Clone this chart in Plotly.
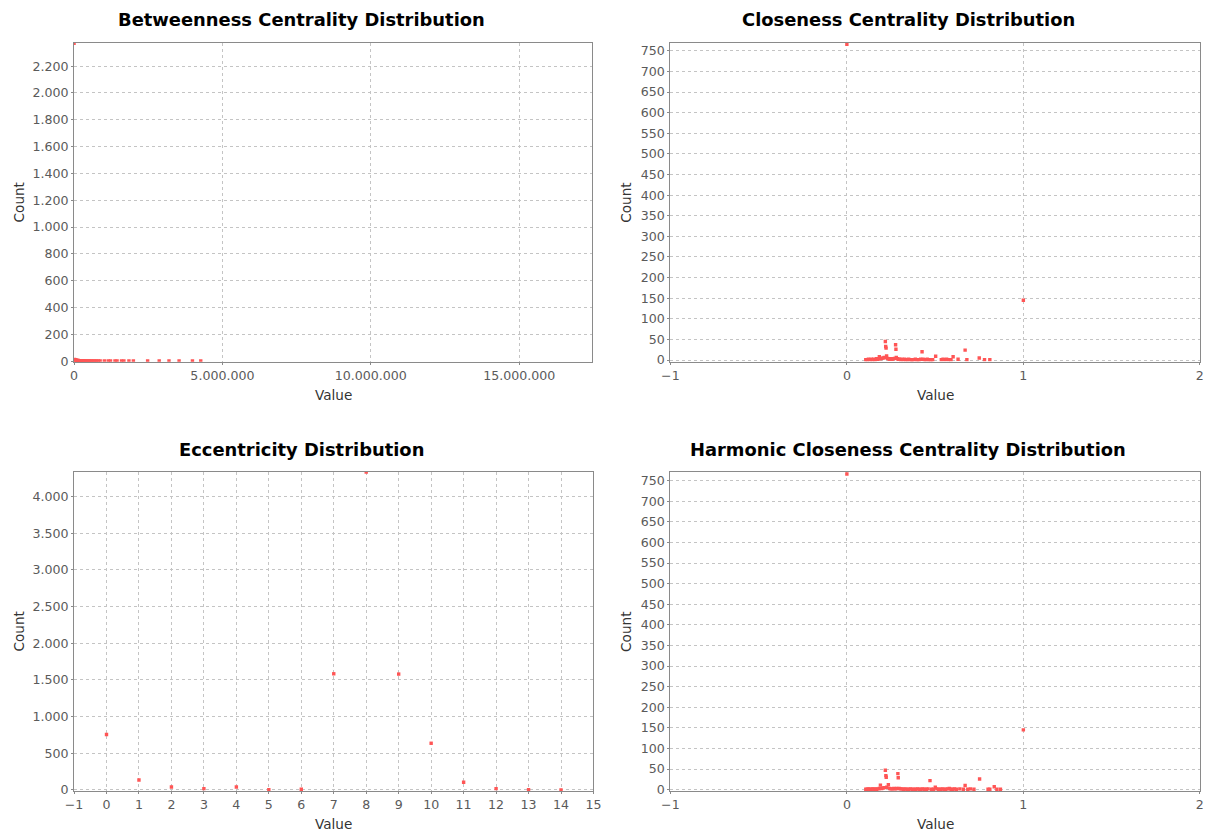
import plotly.graph_objects as go

# ---------------- data ----------------
bet_values = [0, 15000, 32000, 48000, 65000, 80000, 98000, 120000, 140000, 165000,
              190000, 215000, 240000, 270000, 300000, 330000, 365000, 400000, 440000,
              480000, 520000, 565000, 610000, 660000, 710000, 760000, 820000, 880000,
              1020000, 1150000, 1230000, 1380000, 1450000, 1600000, 1680000,
              1850000, 2000000, 2480000, 2870000, 3200000, 3540000,
              3990000, 4270000]
bet_counts = [2370, 12, 9, 8, 7, 6, 6, 5, 5, 4,
              4, 4, 3, 3, 3, 3, 2, 2, 2,
              2, 2, 2, 1, 1, 1, 1, 1, 1,
              1, 1, 1, 1, 1, 1, 1,
              1, 1, 1, 1, 1, 1,
              1, 1]

clo_values = [0, 0.107, 0.115, 0.122, 0.13, 0.138, 0.145, 0.152, 0.16, 0.168, 0.176,
              0.184, 0.19, 0.197, 0.205, 0.212, 0.218, 0.22, 0.222, 0.225, 0.23,
              0.236, 0.242, 0.25, 0.256, 0.262, 0.27, 0.276, 0.278, 0.28, 0.286,
              0.292, 0.298, 0.305, 0.312, 0.32, 0.328, 0.335, 0.342, 0.35, 0.358,
              0.365, 0.372, 0.38, 0.388, 0.395, 0.402, 0.41, 0.418, 0.426, 0.432,
              0.44, 0.448, 0.455, 0.462, 0.47, 0.478, 0.486, 0.503, 0.535, 0.545,
              0.555, 0.565, 0.575, 0.59, 0.602, 0.63, 0.67, 0.68, 0.75, 0.78, 0.81, 1]
clo_counts = [766, 1, 1, 2, 1, 2, 1, 2, 1, 3, 2,
              8, 3, 4, 5, 6, 45, 33, 29, 10, 4,
              3, 2, 3, 2, 3, 4, 37, 26, 6, 3,
              2, 2, 1, 2, 1, 2, 1, 1, 2, 1,
              1, 1, 1, 2, 1, 1, 1, 2, 20, 2,
              1, 1, 2, 1, 1, 1, 1, 9, 1, 2,
              1, 2, 1, 1, 8, 2, 24, 1, 5, 1, 1, 145]

ecc_values = [0, 1, 2, 3, 4, 5, 6, 7, 8, 9, 10, 11, 12, 13, 14]
ecc_counts = [756, 137, 41, 19, 41, 5, 10, 1584, 4333, 1580, 637, 105, 19, 3, 2]

har_values = [0, 0.107, 0.115, 0.122, 0.13, 0.138, 0.145, 0.152, 0.16, 0.168, 0.176,
              0.184, 0.19, 0.197, 0.205, 0.212, 0.218, 0.221, 0.223, 0.226, 0.235,
              0.242, 0.25, 0.258, 0.266, 0.274, 0.282, 0.289, 0.291, 0.296, 0.304,
              0.312, 0.32, 0.33, 0.34, 0.35, 0.36, 0.37, 0.38, 0.39, 0.4, 0.41,
              0.42, 0.43, 0.44, 0.45, 0.46, 0.471, 0.48, 0.49, 0.501, 0.51, 0.52,
              0.53, 0.54, 0.55, 0.56, 0.57, 0.58, 0.59, 0.6, 0.61, 0.62, 0.64,
              0.66, 0.67, 0.685, 0.70, 0.72, 0.752, 0.8, 0.81, 0.835, 0.85, 0.87, 1]
har_counts = [766, 1, 1, 2, 1, 1, 2, 1, 2, 1, 2,
              3, 11, 3, 4, 5, 47, 34, 30, 6, 12,
              3, 2, 2, 3, 2, 3, 39, 29, 3, 2,
              2, 1, 2, 1, 1, 2, 1, 1, 1, 2, 1,
              1, 2, 1, 1, 2, 22, 1, 1, 6, 2, 1,
              1, 2, 1, 1, 2, 3, 1, 1, 2, 1, 2,
              1, 10, 1, 2, 1, 26, 1, 1, 7, 1, 1, 145]

titles = ["Betweenness Centrality Distribution", "Closeness Centrality Distribution",
          "Eccentricity Distribution", "Harmonic Closeness Centrality Distribution"]

# ---------------- layout geometry ----------------
W, H = 1210, 837
SX, OX, SY = 0.987, 8.0, 0.9925   # observed page-to-picture mapping, compensated here
def px_x(v):
    return (v / SX - OX) / W
def px_y(v):
    return 1 - (v / SY) / H

panels = [
    # (x0, x1, ytop, ybottom) target pixels in the picture
    (73, 592, 43, 362),
    (670, 1200, 43, 362),
    (73, 593, 472, 792),
    (670, 1200, 472, 792),
]

RED = "#FF5555"
GRID = "#c4c4c4"
TICKFONT = dict(family="DejaVu Sans", size=12.6, color="#5a5a5a")

fig = go.Figure()
series = [(bet_values, bet_counts), (clo_values, clo_counts),
          (ecc_values, ecc_counts), (har_values, har_counts)]
for i, (xs, ys) in enumerate(series):
    sfx = "" if i == 0 else str(i + 1)
    fig.add_trace(go.Scatter(
        x=xs, y=ys, mode="markers", xaxis="x" + sfx, yaxis="y" + sfx,
        marker=dict(symbol="square", size=3.4, color=RED, line=dict(width=0)),
        showlegend=False, cliponaxis=True))

axis_common = dict(
    showgrid=True, gridcolor=GRID, griddash="dot", gridwidth=1,
    zeroline=False, showline=True, linecolor="#8a8a8a", linewidth=1, mirror=True,
    ticks="outside", ticklen=2, tickcolor="#8a8a8a", tickfont=TICKFONT,
)

xcfg = [
    dict(range=[0, 17470000], tickvals=[0, 5000000, 10000000, 15000000], tickformat=",d"),
    dict(range=[-1, 2], tick0=-1, dtick=1),
    dict(range=[-1, 15], tick0=-1, dtick=1),
    dict(range=[-1, 2], tick0=-1, dtick=1),
]
ycfg = [
    dict(range=[-4, 2373], tick0=0, dtick=200, tickformat=",d"),
    dict(range=[-4, 769], tick0=0, dtick=50),
    dict(range=[-18, 4340], tick0=0, dtick=500, tickformat=",d"),
    dict(range=[-4, 772], tick0=0, dtick=50),
]

layout = dict(
    width=W, height=H, margin=dict(l=0, r=0, t=0, b=0),
    paper_bgcolor="white", plot_bgcolor="white",
    separators=",.", showlegend=False,
)
annotations = []
for i, (x0, x1, yt, yb) in enumerate(panels):
    sfx = "" if i == 0 else str(i + 1)
    xa = dict(axis_common, domain=[px_x(x0), px_x(x1)], anchor="y" + sfx, **xcfg[i])
    ya = dict(axis_common, domain=[px_y(yb), px_y(yt)], anchor="x" + sfx, **ycfg[i])
    layout["xaxis" + sfx] = xa
    layout["yaxis" + sfx] = ya
    half_center = 301 if i % 2 == 0 else 908
    title_y = 20 if i < 2 else 450
    annotations.append(dict(
        text="<b>" + titles[i] + "</b>", x=px_x(half_center), y=px_y(title_y),
        xref="paper", yref="paper", showarrow=False, xanchor="center", yanchor="middle",
        font=dict(family="DejaVu Sans", size=17.9, color="#000000")))
    annotations.append(dict(
        text="Value", x=px_x((x0 + x1) / 2), y=px_y(yb + 33),
        xref="paper", yref="paper", showarrow=False, xanchor="center", yanchor="middle",
        font=dict(family="DejaVu Sans", size=13.6, color="#333333")))
    count_x = 18 if i % 2 == 0 else 626
    annotations.append(dict(
        text="Count", x=px_x(count_x), y=px_y((yt + yb) / 2), textangle=-90,
        xref="paper", yref="paper", showarrow=False, xanchor="center", yanchor="middle",
        font=dict(family="DejaVu Sans", size=13.6, color="#333333")))
layout["annotations"] = annotations

fig.update_layout(**layout)
fig.write_html("out.html")
